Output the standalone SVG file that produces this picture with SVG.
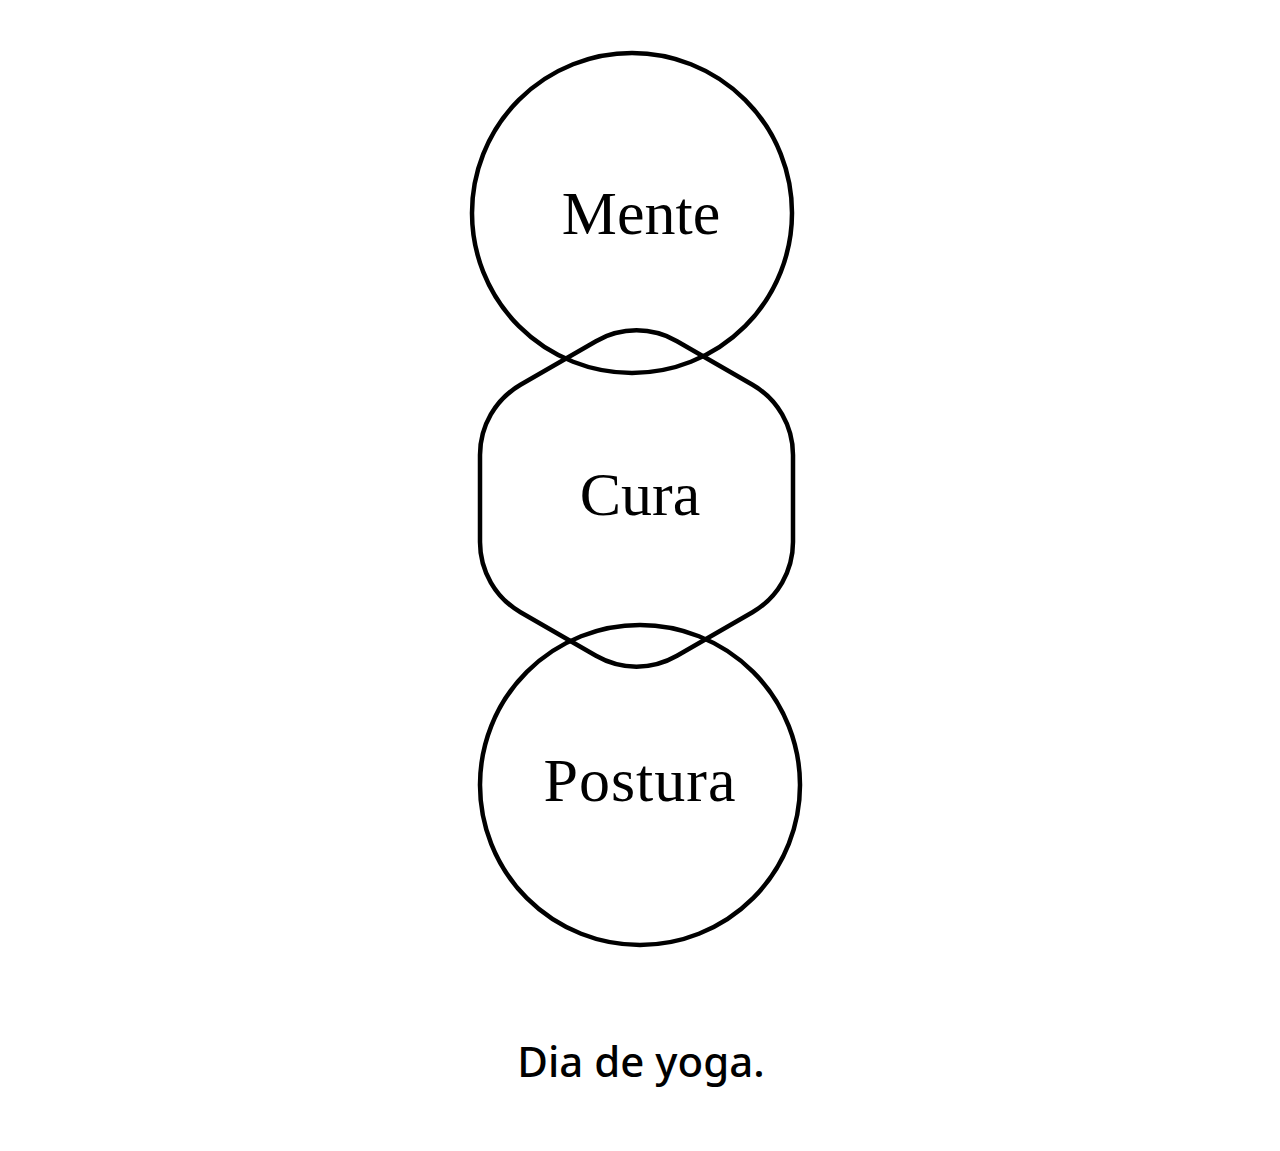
<svg xmlns="http://www.w3.org/2000/svg" width="1280" height="1151" viewBox="0 0 1280 1151">
<style>
.shape{fill:none;stroke:#000;stroke-width:4.5}
.lbl{font-family:"Liberation Serif","DejaVu Serif",serif;font-size:62px;fill:#000;text-anchor:middle}
.cap{font-family:"Noto Sans","Open Sans",sans-serif;font-size:42px;font-weight:500;fill:#000;text-anchor:middle}
</style>
<rect width="1280" height="1151" fill="#fff"/>
<g id="connectors"></g>
<g id="mente">
<circle class="shape" cx="632" cy="213" r="160"/>
<text class="lbl" x="641" y="234">Mente</text>
</g>
<g id="cura">
<path class="shape" d="M596,341.2 A81 81 0 0 1 677,341.2 L752.5,384.8 A81 81 0 0 1 793,455 L793,542 A81 81 0 0 1 752.5,612.2 L677,655.8 A81 81 0 0 1 596,655.8 L520.5,612.2 A81 81 0 0 1 480,542 L480,455 A81 81 0 0 1 520.5,384.8 Z"/>
<text class="lbl" x="640" y="515">Cura</text>
</g>
<g id="postura">
<circle class="shape" cx="640" cy="785" r="160"/>
<text class="lbl" x="640" y="801" letter-spacing="1">Postura</text>
</g>
<g id="caption">
<text class="cap" x="641" y="1077">Dia de yoga.</text>
</g>
</svg>
